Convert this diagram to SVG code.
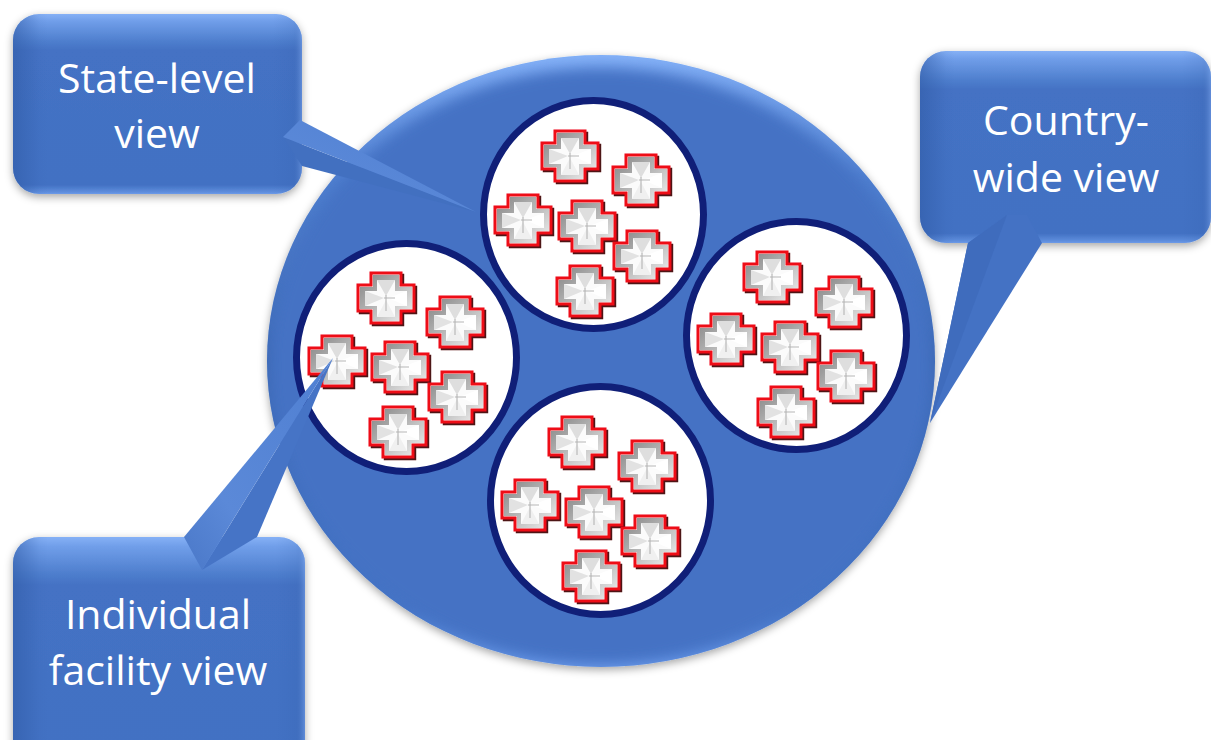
<svg xmlns="http://www.w3.org/2000/svg" xmlns:xlink="http://www.w3.org/1999/xlink" width="1211" height="740" viewBox="0 0 1211 740">
<style>
.label{font-family:"Open Sans","Liberation Sans",sans-serif;font-size:41px;fill:#fff;text-anchor:middle}
.view{fill:#fff;stroke:#101f78;stroke-width:7}
.base{fill:url(#boxV)}
.side{fill:url(#boxH)}
</style>
<defs>
<linearGradient id="boxV" x1="0" y1="0" x2="0" y2="1">
<stop offset="0" stop-color="#86b1f6"/><stop offset=".04" stop-color="#709ee9"/><stop offset=".15" stop-color="#4f7fce"/><stop offset=".2" stop-color="#4472c4"/><stop offset=".95" stop-color="#4271c3"/><stop offset=".99" stop-color="#5f8edd"/><stop offset="1" stop-color="#6d9bea"/>
</linearGradient>
<linearGradient id="boxH" x1="0" y1="0" x2="1" y2="0">
<stop offset="0" stop-color="#2f5aa5" stop-opacity=".55"/><stop offset=".09" stop-color="#2f5aa5" stop-opacity=".06"/><stop offset=".12" stop-color="#2f5aa5" stop-opacity="0"/><stop offset=".9" stop-color="#2f5aa5" stop-opacity="0"/><stop offset=".97" stop-color="#2f5aa5" stop-opacity=".12"/><stop offset="1" stop-color="#7fa8ee" stop-opacity=".5"/>
</linearGradient>
<linearGradient id="discV" x1="0" y1="0" x2="0" y2="1">
<stop offset="0" stop-color="#84b1f8"/><stop offset=".2" stop-color="#4f7fd0"/><stop offset=".5" stop-color="#3b68b4"/><stop offset=".9" stop-color="#4474c6"/><stop offset="1" stop-color="#6c9cec"/>
</linearGradient>
<linearGradient id="tailA" x1="0" y1="1" x2="1" y2="0">
<stop offset="0" stop-color="#4a78c8"/><stop offset=".3" stop-color="#5b89d8"/><stop offset="1" stop-color="#4f7fd2"/>
</linearGradient>
<linearGradient id="rim" x1="0" y1="0" x2="1" y2="1">
<stop offset="0" stop-color="#858585"/><stop offset=".5" stop-color="#b8b8b8"/><stop offset="1" stop-color="#f2f2f2"/>
</linearGradient>
<clipPath id="discClip"><ellipse cx="601" cy="361" rx="334" ry="306"/></clipPath>
<filter id="soft" x="-10%" y="-10%" width="120%" height="125%">
<feDropShadow dx="0" dy="3" stdDeviation="4" flood-color="#000" flood-opacity=".35"/>
</filter>
<filter id="blur8" x="-5%" y="-5%" width="110%" height="110%"><feGaussianBlur stdDeviation="7"/></filter>
<filter id="blur1" x="-5%" y="-5%" width="110%" height="110%"><feGaussianBlur stdDeviation=".45"/></filter>
<g id="cross" filter="url(#blur1)">
<path d="M-13-23H17V-11H30V15H17V27H-13V15H-26V-11H-13Z" fill="#4d1414" stroke="#4d1414" stroke-width="2.4"/>
<path d="M-15-25H15V-13H28V13H15V25H-15V13H-28V-13H-15Z" fill="#f4f4f4" stroke="#ee0a14" stroke-width="3"/>
<path d="M-13-23H13V-11H26V11H13V23H-13V11H-26V-11H-13Z" fill="url(#rim)"/>
<path d="M-9-18H9V-7H21V8H9V19H-9V8H-21V-7H-9Z" fill="#fbfbfb"/>
<path d="M-9-18H9L0-2Z" fill="#dedede"/>
<path d="M-21-7V8L-2 0Z" fill="#e2e2e2"/>
<path d="M21-7V8L2 0Z" fill="#fff"/>
<path d="M-9 19H9L0 2Z" fill="#f0f0f0"/>
<path d="M0-3V13M-2 0H9" stroke="#b5b5b5" stroke-width="1.1" fill="none"/>
</g>
</defs>
<rect width="1211" height="740" fill="#fff"/>

<g id="country-disc">
<ellipse cx="601" cy="361" rx="334" ry="306" fill="url(#discV)" filter="url(#soft)"/>
<g clip-path="url(#discClip)">
<ellipse cx="601" cy="366" rx="331" ry="298" fill="#4472c4" filter="url(#blur8)"/>
</g>
</g>

<g id="state-top">
<ellipse class="view" cx="593.500" cy="214.500" rx="110" ry="114"/>
<use xlink:href="#cross" href="#cross" x="570" y="156"/><use xlink:href="#cross" href="#cross" x="641" y="180"/><use xlink:href="#cross" href="#cross" x="523" y="220"/><use xlink:href="#cross" href="#cross" x="587" y="226"/><use xlink:href="#cross" href="#cross" x="642" y="256"/><use xlink:href="#cross" href="#cross" x="585" y="291"/>
</g>
<g id="state-left">
<ellipse class="view" cx="406.500" cy="357.500" rx="110" ry="114"/>
<use xlink:href="#cross" href="#cross" x="386" y="298"/><use xlink:href="#cross" href="#cross" x="455" y="322"/><use xlink:href="#cross" href="#cross" x="337" y="361"/><use xlink:href="#cross" href="#cross" x="400" y="367"/><use xlink:href="#cross" href="#cross" x="457" y="397"/><use xlink:href="#cross" href="#cross" x="398" y="432"/>
</g>
<g id="state-right">
<ellipse class="view" cx="796.500" cy="335.500" rx="110" ry="114"/>
<use xlink:href="#cross" href="#cross" x="772" y="277"/><use xlink:href="#cross" href="#cross" x="844" y="302"/><use xlink:href="#cross" href="#cross" x="726" y="339"/><use xlink:href="#cross" href="#cross" x="790" y="347"/><use xlink:href="#cross" href="#cross" x="846" y="376"/><use xlink:href="#cross" href="#cross" x="786" y="412"/>
</g>
<g id="state-bottom">
<ellipse class="view" cx="600.500" cy="500.500" rx="110" ry="114"/>
<use xlink:href="#cross" href="#cross" x="577" y="442"/><use xlink:href="#cross" href="#cross" x="647" y="466"/><use xlink:href="#cross" href="#cross" x="530" y="505"/><use xlink:href="#cross" href="#cross" x="594" y="512"/><use xlink:href="#cross" href="#cross" x="650" y="541"/><use xlink:href="#cross" href="#cross" x="591" y="576"/>
</g>

<g id="callout-state">
<rect class="base" x="13" y="14" width="289" height="180" rx="26" filter="url(#soft)"/>
<rect class="side" x="13" y="14" width="289" height="180" rx="26"/>
<text class="label" x="157" y="93">State-level</text>
<text class="label" x="157" y="148">view</text>
</g>
<g id="callout-country">
<rect class="base" x="920" y="51" width="291" height="192" rx="26" filter="url(#soft)"/>
<rect class="side" x="920" y="51" width="291" height="192" rx="26"/>
<text class="label" x="1066" y="135">Country-</text>
<text class="label" x="1066" y="192">wide view</text>
</g>
<g id="callout-facility">
<rect class="base" x="13" y="537" width="292" height="240" rx="26" filter="url(#soft)"/>
<rect class="side" x="13" y="537" width="292" height="240" rx="26"/>
<text class="label" x="158" y="629">Individual</text>
<text class="label" x="158" y="685">facility view</text>
</g>

<g id="connectors">
<path d="M302 166 283 137 476 212Z" fill="#4270c0"/>
<path d="M283 137 300 120 476 212Z" fill="url(#tailA)"/>
<path d="M968 243 1007 215 1027 215 1042 243 930 423Z" fill="#4472c4"/>
<path d="M968 243 1007 215 930 423Z" fill="#3f6cbd"/>
<path d="M202 570 257 537 333 358Z" fill="#4674c6"/>
<path d="M184 537 202 570 333 358Z" fill="url(#tailA)"/>
</g>
</svg>
